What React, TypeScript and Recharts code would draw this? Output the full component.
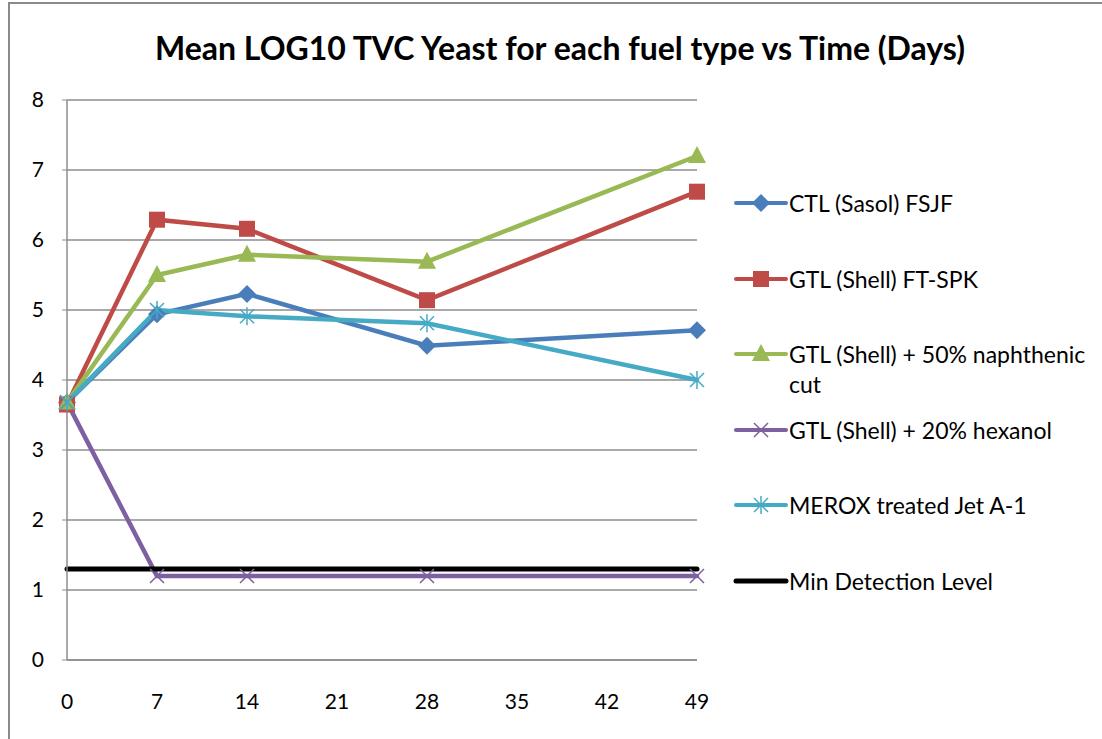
import React from "react";
import { LineChart, Line, XAxis, YAxis, CartesianGrid } from "recharts";

const days = [0, 7, 14, 28, 49];
const ctlSasol = [3.68, 4.94, 5.23, 4.49, 4.71];
const gtlShell = [3.65, 6.29, 6.16, 5.14, 6.69];
const gtlNaphthenic = [3.68, 5.5, 5.79, 5.69, 7.2];
const gtlHexanol = [3.68, 1.2, 1.2, 1.2, 1.2];
const meroxJet = [3.68, 5.0, 4.91, 4.81, 4.0];
const minDetectionDays = [0, 49];
const minDetection = [1.3, 1.3];

const xTicks = [0, 7, 14, 21, 28, 35, 42, 49];
const yTicks = [0, 1, 2, 3, 4, 5, 6, 7, 8];

const FONT = "Lato, 'Open Sans', sans-serif";

type Marker = "diamond" | "square" | "triangle" | "x" | "star" | "none";

const toPoints = (xs: number[], ys: number[]) => xs.map((x, i) => ({ day: x, value: ys[i] }));

const series = [
  { name: "CTL (Sasol) FSJF", color: "#4A7EBB", marker: "diamond" as Marker, data: toPoints(days, ctlSasol) },
  { name: "GTL (Shell) FT-SPK", color: "#BE4B48", marker: "square" as Marker, data: toPoints(days, gtlShell) },
  { name: "GTL (Shell) + 50% naphthenic cut", color: "#98B954", marker: "triangle" as Marker, data: toPoints(days, gtlNaphthenic) },
  { name: "GTL (Shell) + 20% hexanol", color: "#7D60A0", marker: "x" as Marker, data: toPoints(days, gtlHexanol) },
  { name: "MEROX treated Jet A-1", color: "#46AAC5", marker: "star" as Marker, data: toPoints(days, meroxJet) },
  { name: "Min Detection Level", color: "#000000", marker: "none" as Marker, data: toPoints(minDetectionDays, minDetection) },
];

const drawMarker = (marker: Marker, cx: number, cy: number, color: string, key?: string) => {
  switch (marker) {
    case "diamond":
      return <path key={key} d={`M${cx},${cy - 9}L${cx + 9},${cy}L${cx},${cy + 9}L${cx - 9},${cy}Z`} fill={color} />;
    case "square":
      return <rect key={key} x={cx - 8} y={cy - 8} width={16} height={16} fill={color} />;
    case "triangle":
      return <path key={key} d={`M${cx},${cy - 10}L${cx + 9},${cy + 7}L${cx - 9},${cy + 7}Z`} fill={color} />;
    case "x":
      return (
        <path key={key} d={`M${cx - 7},${cy - 7}L${cx + 7},${cy + 7}M${cx - 7},${cy + 7}L${cx + 7},${cy - 7}`} stroke={color} strokeWidth={1.5} />
      );
    case "star":
      return (
        <path
          key={key}
          d={`M${cx - 7},${cy - 7}L${cx + 7},${cy + 7}M${cx - 7},${cy + 7}L${cx + 7},${cy - 7}M${cx},${cy - 9}L${cx},${cy + 9}`}
          stroke={color}
          strokeWidth={1.5}
        />
      );
    default:
      return <g key={key} />;
  }
};

const LegendBox = () => (
  <div style={{ position: "absolute", left: 733, top: 188, width: 360, fontFamily: FONT, fontSize: 23, color: "#000" }}>
    {series.map((s) => (
      <div key={s.name} style={{ display: "flex", alignItems: "flex-start", height: 75.5 }}>
        <svg width={56} height={30} style={{ flex: "none" }}>
          <line x1={3} y1={15} x2={53} y2={15} stroke={s.color} strokeWidth={s.marker === "none" ? 5 : 4} strokeLinecap="round" />
          {drawMarker(s.marker, 28, 15, s.color)}
        </svg>
        <div style={{ lineHeight: "30px", width: 305 }}>{s.name}</div>
      </div>
    ))}
  </div>
);

export default function App() {
  return (
    <div style={{ position: "relative", width: 1102, height: 739, background: "#fff" }}>
      <style>{"body{margin:0}"}</style>
      <div
        style={{
          position: "absolute",
          left: 8,
          top: 2,
          width: 1102,
          height: 737,
          borderLeft: "2px solid #8a8a8a",
          borderTop: "2px solid #8a8a8a",
          boxSizing: "border-box",
        }}
      />
      <div
        style={{
          position: "absolute",
          left: 0,
          width: 1120,
          top: 28,
          textAlign: "center",
          fontFamily: FONT,
          fontWeight: 700,
          fontSize: 32,
        }}
      >
        Mean LOG10 TVC Yeast for each fuel type vs Time (Days)
      </div>
      <LineChart width={1102} height={739} margin={{ top: 100, right: 405, bottom: 49, left: 17 }}>
        <CartesianGrid horizontal vertical={false} stroke="#8c8c8c" strokeWidth={1.5} />
        <XAxis
          type="number"
          dataKey="day"
          domain={[0, 49]}
          ticks={xTicks}
          tickLine={false}
          axisLine={{ stroke: "#8c8c8c", strokeWidth: 1.5 }}
          tick={{ fill: "#000", fontSize: 21, fontFamily: FONT }}
          tickMargin={28}
          height={30}
        />
        <YAxis
          type="number"
          domain={[0, 8]}
          ticks={yTicks}
          width={50}
          tickSize={5}
          tickLine={{ stroke: "#8c8c8c" }}
          axisLine={{ stroke: "#8c8c8c", strokeWidth: 1.5 }}
          tick={{ fill: "#000", fontSize: 21, fontFamily: FONT }}
          tickMargin={18}
        />
        {series.map((s) => (
          <Line
            key={s.name}
            data={s.data}
            dataKey="value"
            name={s.name}
            type="linear"
            stroke={s.color}
            strokeWidth={s.marker === "none" ? 5 : 4.5}
            strokeLinecap="round"
            isAnimationActive={false}
            dot={(p: any) => drawMarker(s.marker, p.cx, p.cy, s.color, `${s.name}-${p.index}`)}
            activeDot={false}
          />
        ))}
      </LineChart>
      <LegendBox />
    </div>
  );
}
